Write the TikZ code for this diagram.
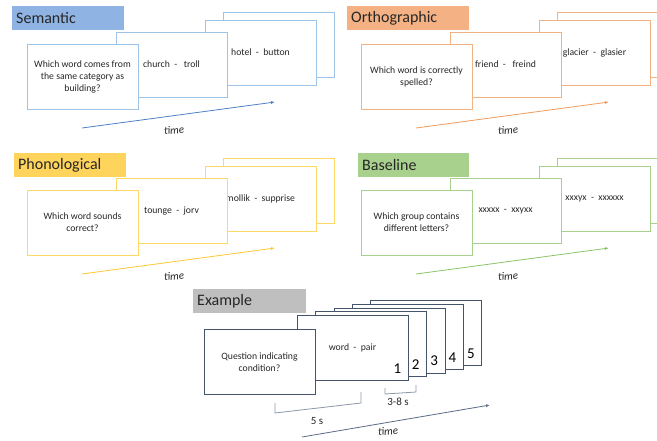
\documentclass[tikz,border=0pt]{standalone}
\usepackage{fontspec}
\setmainfont{Carlito}
\usetikzlibrary{arrows.meta,calc,positioning}

\definecolor{semcard}{HTML}{9DC3E6}
\definecolor{semtitle}{HTML}{8FB4E3}
\definecolor{semarrow}{HTML}{4F7FC4}
\definecolor{orthcard}{HTML}{F4B183}
\definecolor{orthtitle}{HTML}{F4B183}
\definecolor{ortharrow}{HTML}{F09A5C}
\definecolor{phoncard}{HTML}{FFD966}
\definecolor{phontitle}{HTML}{FFD45C}
\definecolor{phonarrow}{HTML}{FFC832}
\definecolor{basecard}{HTML}{A9D18E}
\definecolor{basetitle}{HTML}{A9D18E}
\definecolor{basearrow}{HTML}{8CC46A}
\definecolor{excard}{HTML}{44546A}
\definecolor{extitle}{HTML}{BFBFBF}
\definecolor{exarrow}{HTML}{5B6B84}
\definecolor{inktext}{HTML}{262626}

% one condition: four cards stacked in time, plus the time axis
\newcommand{\trialpanel}[7]{%
  \begin{scope}[shift={(#2,#3)}]
    \node[card,draw=#4card] (#1c4) at (278.5,45) {};
    \node[card,draw=#4card] (#1c3) at (260.5,52.5) {#7};
    \node[card,draw=#4card] (#1c2) at (171.5,64.5) {#6};
    \node[card,draw=#4card] (#1c1) at (82.5,76.5) {#5};
    \coordinate (#1t0) at (82,128);
    \coordinate (#1t1) at (275,102);
    \draw[timeline,draw=#4arrow] (#1t0) -- (#1t1);
    \node[timelabel] (#1time) at (174,130) {time};
  \end{scope}}

\begin{document}
\begin{tikzpicture}[x=1pt,y=-1pt,>={Latex[length=4pt,width=3pt]},
    card/.style={fill=white,line width=0.9pt,minimum width=111pt,minimum height=65pt,
                 inner sep=2pt,align=center,text=inktext,font=\fontsize{9.7}{12}\selectfont},
    titlebox/.style={anchor=north west,inner xsep=4pt,inner ysep=0pt,minimum height=24pt,
                     align=left,text=inktext,font=\fontsize{16}{18}\selectfont},
    timeline/.style={->,line width=0.8pt},
    timelabel/.style={rotate=5,text=inktext,font=\fontsize{11}{12}\selectfont\itshape},
    number/.style={inner sep=0pt,text=black,font=\fontsize{15}{16}\selectfont},
    bracket/.style={draw=exarrow!70!white,line width=0.8pt},
    durlabel/.style={text=inktext,font=\fontsize{11}{12}\selectfont}]
  \path[use as bounding box] (0,0) rectangle (657,440);
  \clip (0,0) rectangle (657,440);

  % the four conditions
  \trialpanel{sem}{0}{0}{sem}{Which word comes from\\the same category as\\building?}{church~~-~~~troll}{hotel~~-~~button}
  \trialpanel{orth}{334}{0}{orth}{Which word is correctly\\spelled?}{friend~~-~~~freind}{glacier~~-~~glasier}
  \trialpanel{phon}{0}{146}{phon}{Which word sounds\\correct?}{tounge~~-~~jorv}{mollik~~-~~supprise}
  \trialpanel{base}{334}{146}{base}{Which group contains\\different letters?}{xxxxx~~-~~xxyxx}{xxxyx~~-~~xxxxxx}

  \node[titlebox,fill=semtitle,text width=104pt] (semtitle) at (12,6) {Semantic};
  \node[titlebox,fill=orthtitle,text width=114pt] (orthtitle) at (347,6) {Orthographic};
  \node[titlebox,fill=phontitle,text width=104pt] (phontitle) at (14,153) {Phonological};
  \node[titlebox,fill=basetitle,text width=103pt] (basetitle) at (358,153) {Baseline};

  % example trial
  \node[titlebox,fill=extitle,text width=105pt] (extitle) at (193,289) {Example};
  \foreach \i in {5,4,3,2,1} {
    \node[card,draw=excard,line width=0.6pt] (exc\i) at ({352.5+18.4*(\i-1)},{348-3.85*(\i-1)}) {};
    \node[number] (exn\i) at ($(exc\i.south east)+(-11,-12)$) {\i};
  }
  \node[card,draw=none,fill=none] (expair) at (exc1.center) {word~~-~~pair};
  \node[card,draw=excard,line width=0.6pt] (exq) at (259.5,362) {Question indicating\\condition?};

  \coordinate (b5l) at (275,403);
  \coordinate (b5r) at (361,403);
  \draw[bracket] (b5l) -- ++(0,10) -- (b5r) -- ++(0,-11);
  \node[durlabel] (d5) at (317,421) {5 s};
  \coordinate (b38l) at (385,388);
  \coordinate (b38r) at (416,392);
  \draw[bracket] (b38l) -- ++(0,6) -- (b38r) -- ++(0,-7);
  \node[durlabel] (d38) at (398,402) {3-8 s};

  \coordinate (ext0) at (302,437);
  \coordinate (ext1) at (490,405);
  \draw[timeline,draw=exarrow] (ext0) -- (ext1);
  \node[timelabel] (extime) at (388,431) {time};
\end{tikzpicture}
\end{document}
